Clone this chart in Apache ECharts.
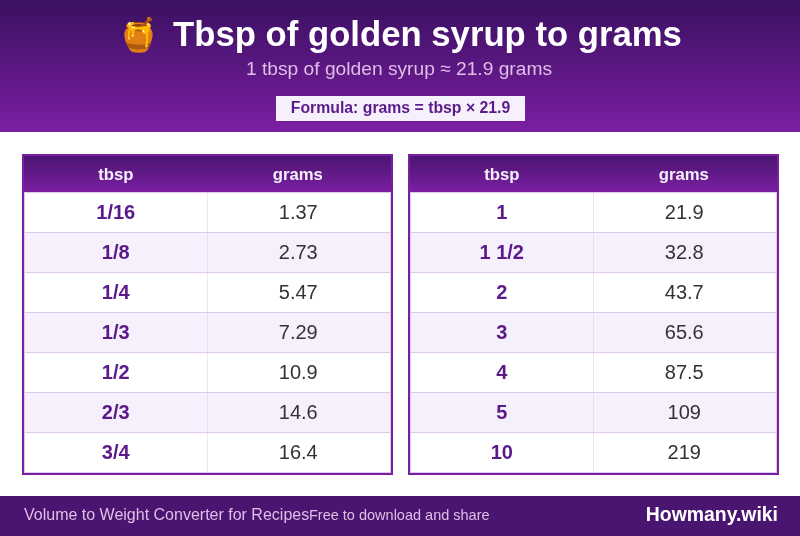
<!DOCTYPE html>
<html><head><meta charset="utf-8">
<style>html,body{margin:0;padding:0;background:#fff}#c{width:800px;height:536px}</style>
<script src="https://cdn.jsdelivr.net/npm/echarts@6/dist/echarts.min.js"></script></head>
<body><div id="c"></div>
<script>
const titleText = 'Tbsp of golden syrup to grams';
const subtitleText = '1 tbsp of golden syrup ≈ 21.9 grams';
const formulaText = 'Formula: grams = tbsp × 21.9';
const footerLeft = 'Volume to Weight Converter for Recipes';
const footerMid = 'Free to download and share';
const footerRight = 'Howmany.wiki';
const columns = ['tbsp', 'grams'];
const leftTbsp = ['1/16','1/8','1/4','1/3','1/2','2/3','3/4'];
const leftGrams = ['1.37','2.73','5.47','7.29','10.9','14.6','16.4'];
const rightTbsp = ['1','1 1/2','2','3','4','5','10'];
const rightGrams = ['21.9','32.8','43.7','65.6','87.5','109','219'];

const FONT = '"Liberation Sans", Arial, sans-serif';
const DARK = '#4a1570', MID = '#7b1fa2', DEEP='#3a1060', ROW='#f5f0fb', LINE='#dcc9ec', INK='#333333', BOLD='#5a1a8a', HEAD='#f5f0fb';
const vGrad = (a,b)=>({type:'linear',x:0,y:0,x2:0,y2:1,colorStops:[{offset:0,color:a},{offset:1,color:b}]});

const tables = [
  {left:24, tbsp:leftTbsp, grams:leftGrams},
  {left:410, tbsp:rightTbsp, grams:rightGrams}
];
const W=367, H=280, TOP=193;
const grid=[],xAxis=[],yAxis=[],series=[],graphic=[];
graphic.push({type:'rect',silent:true,z:0,shape:{x:0,y:0,width:800,height:132},style:{fill:vGrad(DEEP,MID)}});
graphic.push({type:'rect',silent:true,z:0,shape:{x:0,y:496,width:800,height:40},style:{fill:DARK}});
graphic.push({type:'rect',silent:true,z:1,shape:{x:276,y:96,width:249,height:25},style:{fill:ROW}});
graphic.push({type:'text',z:2,style:{text:'🍯',x:139,y:36,align:'center',verticalAlign:'middle',font:'33px "Noto Color Emoji", sans-serif'}});
graphic.push({type:'text',z:2,style:{text:titleText,x:427.5,y:36,align:'center',verticalAlign:'middle',fill:'#fff',font:'bold 34.7px '+FONT}});
graphic.push({type:'text',z:2,style:{text:subtitleText,x:399,y:70,align:'center',verticalAlign:'middle',fill:'#e1bee7',font:'19.2px '+FONT}});
graphic.push({type:'text',z:2,style:{text:formulaText,x:400.5,y:109,align:'center',verticalAlign:'middle',fill:BOLD,font:'bold 15.8px '+FONT}});
graphic.push({type:'text',z:2,style:{text:footerLeft,x:24,y:516,align:'left',verticalAlign:'middle',fill:'#e1bee7',font:'16px '+FONT}});
graphic.push({type:'text',z:2,style:{text:footerMid,x:309,y:516,align:'left',verticalAlign:'middle',fill:'#e1bee7',font:'14.5px '+FONT}});
graphic.push({type:'text',z:2,style:{text:footerRight,x:778,y:516,align:'right',verticalAlign:'middle',fill:'#fff',font:'bold 19.4px '+FONT}});

tables.forEach((t,i)=>{
  graphic.push({type:'rect',silent:true,z:1,shape:{x:t.left-1,y:155,width:W+2,height:319},style:{fill:'#fff',stroke:MID,lineWidth:2}});
  graphic.push({type:'rect',silent:true,z:1,shape:{x:t.left,y:156,width:W,height:36},style:{fill:vGrad(DARK,MID)}});
  grid.push({left:t.left,top:TOP,width:W,height:H,containLabel:false});
  xAxis.push({type:'category',gridIndex:i,position:'top',z:10,data:columns,axisLine:{show:false},axisTick:{show:false},splitLine:{show:false},
    axisLabel:{color:HEAD,fontFamily:FONT,fontWeight:'bold',fontSize:16.7,margin:9,interval:0,
      formatter:v=>`{${v}|${v}}`,
      rich:{tbsp:{color:HEAD,fontFamily:FONT,fontWeight:'bold',fontSize:16.7},
            grams:{color:HEAD,fontFamily:FONT,fontWeight:'bold',fontSize:16.7,padding:[0,3,0,0]}}}});
  yAxis.push({type:'category',gridIndex:i,inverse:true,data:t.tbsp,axisLine:{show:false},axisTick:{show:false},axisLabel:{show:false},splitLine:{show:false}});
  const data=[];
  t.tbsp.forEach((v,r)=>{data.push([0,r,v]);data.push([1,r,t.grams[r]]);});
  series.push({type:'custom',xAxisIndex:i,yAxisIndex:i,coordinateSystem:'cartesian2d',silent:true,z:5,
    data,encode:{x:0,y:1},
    renderItem:(params,api)=>{
      const c=api.value(0), r=api.value(1), val=c===0?t.tbsp[r]:t.grams[r];
      const p=api.coord([c,r]), s=api.size([1,1]);
      const x=p[0]-s[0]/2,y=p[1]-s[1]/2;
      const lineStyle={stroke:LINE,lineWidth:1};
      const kids=[
        {type:'rect',shape:{x,y,width:s[0],height:s[1]},style:{fill:r%2?ROW:'#fff'}},
        {type:'line',shape:{x1:x,y1:y+s[1]-0.5,x2:x+s[0],y2:y+s[1]-0.5},style:lineStyle},
        {type:'line',shape:{x1:c?x+s[0]-0.5:x+s[0],y1:y-1,x2:c?x+s[0]-0.5:x+s[0],y2:y+s[1]},style:lineStyle},
        {type:'text',style:{text:val,x:p[0]-(c?1:0),y:p[1]+0.5,align:'center',verticalAlign:'middle',fill:c===0?BOLD:INK,
          font:(c===0?'bold ':'')+'20px '+FONT}}
      ];
      if(r===0) kids.push({type:'line',shape:{x1:x,y1:y-0.5,x2:x+s[0],y2:y-0.5},style:lineStyle});
      if(c===0) kids.push({type:'line',shape:{x1:x+0.5,y1:y-1,x2:x+0.5,y2:y+s[1]},style:lineStyle});
      return {type:'group',children:kids};
    }});
});
const chart=echarts.init(document.getElementById('c'),null,{renderer:'canvas'});
chart.setOption({animation:false,backgroundColor:'#fff',grid,xAxis,yAxis,series,graphic:{elements:graphic}});
</script></body></html>
